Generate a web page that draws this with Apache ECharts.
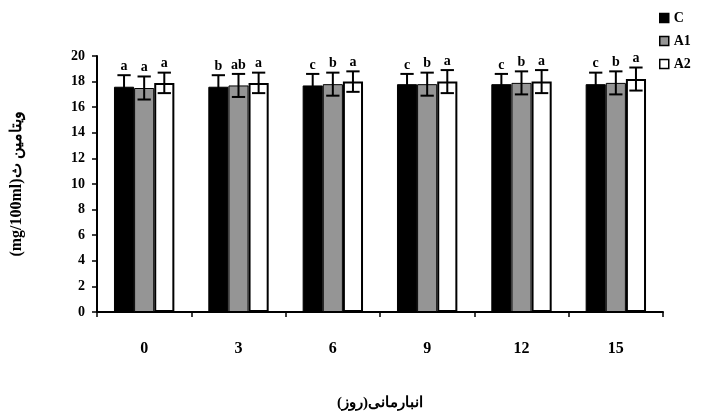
<!DOCTYPE html>
<html><head><meta charset="utf-8">
<script src="https://cdn.jsdelivr.net/npm/echarts@6/dist/echarts.min.js"></script>
<style>html,body{margin:0;padding:0;background:#fff}#c{width:713px;height:416px}</style>
</head><body><div id="c"></div>
<script>
const days = ['0','3','6','9','12','15'];
const seriesNames = ['C','A1','A2'];
const valC  = [17.6, 17.6, 17.7, 17.8, 17.8, 17.8];
const valA1 = [17.5, 17.7, 17.8, 17.8, 17.9, 17.9];
const valA2 = [17.9, 17.9, 18.0, 18.0, 18.0, 18.2];
const errC  = [0.9, 0.9, 0.9, 0.8, 0.8, 0.9];
const errA1 = [0.9, 0.9, 0.9, 0.9, 0.9, 0.9];
const errA2 = [0.8, 0.8, 0.8, 0.9, 0.9, 0.9];
const letC  = ['a','b','c','c','c','c'];
const letA1 = ['a','ab','b','b','b','b'];
const letA2 = ['a','a','a','a','a','a'];
const yTicks = [0,2,4,6,8,10,12,14,16,18,20];

const FONT = 'Liberation Serif, DejaVu Serif, serif';
const vals = [valC, valA1, valA2];
const errs = [errC, errA1, errA2];
const lets = [letC, letA1, letA2];
const colors = ['#000000', '#959595', '#ffffff'];
const GAP = 0.36;

const chart = echarts.init(document.getElementById('c'));
const series = [];
seriesNames.forEach((n, i) => {
  series.push({
    name: n, type: 'bar', data: vals[i],
    barGap: '0%', barCategoryGap: (GAP*100)+'%',
    itemStyle: {color: colors[i], borderColor: '#000', borderWidth: i===2 ? 2 : 1}
  });
});
seriesNames.forEach((n, i) => {
  series.push({
    type: 'custom', name: n + '_err', z: 10, silent: true,
    data: days.map((d, k) => [k, vals[i][k], errs[i][k], k]),
    renderItem: function (params, api) {
      const k = api.value(3);
      const v = api.value(1), e = api.value(2);
      const band = api.size([1, 0])[0];
      const bw = band * (1 - GAP) / 3;
      const cx = api.coord([api.value(0), 0])[0] + (i - 1) * bw;
      const top = api.coord([0, v + e])[1];
      const bot = api.coord([0, v - e])[1];
      const cap = bw * 0.33;
      const st = {stroke: '#000', lineWidth: 2};
      return {type: 'group', children: [
        {type: 'line', shape: {x1: cx, y1: top, x2: cx, y2: bot}, style: st},
        {type: 'line', shape: {x1: cx - cap, y1: top, x2: cx + cap, y2: top}, style: st},
        {type: 'line', shape: {x1: cx - cap, y1: bot, x2: cx + cap, y2: bot}, style: st},
        {type: 'text', style: {text: lets[i][k], x: cx, y: top - 2, align: 'center', verticalAlign: 'bottom',
          font: 'bold 14px ' + FONT, fill: '#000'}}
      ]};
    }
  });
});

chart.setOption({
  animation: false,
  backgroundColor: '#fff',
  grid: {left: 97, right: 50, top: 56, bottom: 103},
  legend: {
    data: seriesNames, orient: 'vertical', left: 654, top: 6,
    itemWidth: 9, itemHeight: 9, itemGap: 9, icon: 'rect',
    textStyle: {fontFamily: FONT, fontWeight: 'bold', fontSize: 14, color: '#000'},
    itemStyle: {borderColor: '#000', borderWidth: 1.5}
  },
  xAxis: {
    type: 'category', data: days,
    name: 'انبارمانی(روز)', nameLocation: 'middle', nameGap: 84,
    nameTextStyle: {fontFamily: FONT, fontWeight: 'bold', fontSize: 15, color: '#000'},
    axisLine: {lineStyle: {color: '#000', width: 2}},
    axisTick: {show: true, length: 5, lineStyle: {color: '#000', width: 1.5}},
    axisLabel: {margin: 29, fontFamily: FONT, fontWeight: 'bold', fontSize: 16, color: '#000'}
  },
  yAxis: {
    type: 'value', min: 0, max: 20, interval: 2,
    name: '(mg/100ml)ویتامین ث', nameLocation: 'middle', nameGap: 72, nameRotate: 90,
    nameTextStyle: {fontFamily: FONT, fontWeight: 'bold', fontSize: 16, color: '#000'},
    splitLine: {show: false},
    axisLine: {show: true, lineStyle: {color: '#000', width: 2}},
    axisTick: {show: true, length: 5, lineStyle: {color: '#000', width: 1.5}},
    axisLabel: {margin: 12, fontFamily: FONT, fontWeight: 'bold', fontSize: 14, color: '#000',
      formatter: v => yTicks.includes(v) ? String(v) : ''}
  },
  series: series
});
</script></body></html>
